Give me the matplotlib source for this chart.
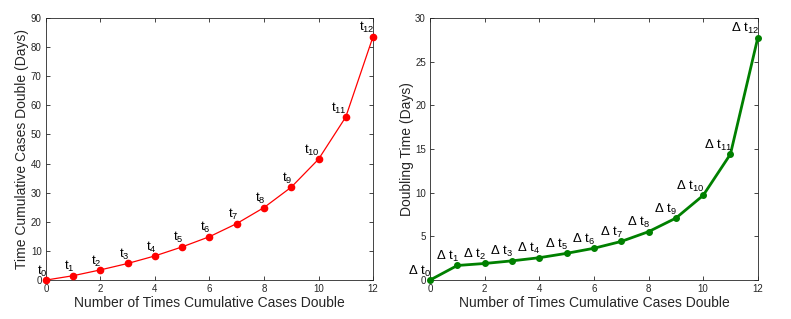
import matplotlib
matplotlib.use('Agg')
import matplotlib.pyplot as plt
import numpy as np

plt.rcParams['font.family'] = ['Liberation Sans', 'DejaVu Sans']
plt.rcParams['mathtext.fontset'] = 'custom'
plt.rcParams['mathtext.rm'] = 'Liberation Sans'
plt.rcParams['mathtext.it'] = 'Liberation Sans'

#doubling index
n = np.arange(13)
#time cumulative cases double (days)
t_cum = [0, 1.5, 3.5, 5.7, 8.3, 11.4, 14.9, 19.4, 24.9, 31.9, 41.5, 56.0, 83.6]
#doubling time (days)
dt = [0, 1.67, 1.9, 2.2, 2.56, 3.06, 3.64, 4.42, 5.54, 7.09, 9.69, 14.42, 27.73]

xlab = 'Number of Times Cumulative Cases Double'

fig = plt.figure(figsize=(7.91, 3.19), dpi=100)
ax1 = fig.add_axes([0.058, 0.122, 0.4136, 0.8216])
ax2 = fig.add_axes([0.5436, 0.122, 0.4144, 0.8216])

def style(ax):
    ax.set_xlim(0, 12)
    ax.set_xticks(range(0, 13, 2))
    ax.tick_params(direction='in', top=True, right=True, labelsize=7,
                   length=3, width=0.6, colors='#262626', pad=3)
    for s in ax.spines.values():
        s.set_linewidth(0.6)
        s.set_color('#262626')
    ax.set_xlabel(xlab, fontsize=10, color='#262626', labelpad=1)

#left: cumulative time
ax1.plot(n, t_cum, '-o', color='red', lw=0.9, ms=4.5, clip_on=False, zorder=3)
ax1.set_ylim(0, 90)
ax1.set_yticks(range(0, 91, 10))
style(ax1)
ax1.set_ylabel('Time Cumulative Cases Double (Days)', fontsize=10, color='#262626', labelpad=1)
for i in n:
    ax1.annotate(r'$\mathrm{t}_{%d}$' % i, (i, t_cum[i]), xytext=(1, 1),
                 textcoords='offset points', ha='right', va='bottom', fontsize=9.5)

#right: doubling time
ax2.plot(n, dt, '-o', color=(0, 0.5, 0), lw=2, ms=4, clip_on=False, zorder=3)
ax2.set_ylim(0, 30)
ax2.set_yticks(range(0, 31, 5))
style(ax2)
ax2.set_ylabel('Doubling Time (Days)', fontsize=10, color='#262626', labelpad=1)
for i in n:
    ax2.annotate(r'$\Delta\ \mathrm{t}_{%d}$' % i, (i, dt[i]), xytext=(1, 1),
                 textcoords='offset points', ha='right', va='bottom', fontsize=9.5)

fig.savefig('out.png', dpi=100)
